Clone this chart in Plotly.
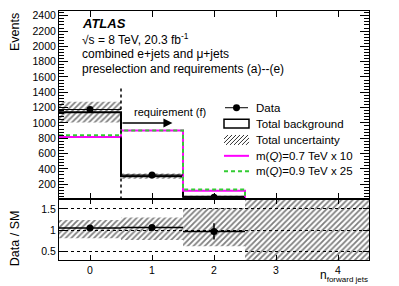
import plotly.graph_objects as go

# ---------------- data ----------------
bin_centers = [0, 1, 2, 3, 4]
bin_edges = [-0.5, 0.5, 1.5, 2.5, 3.5, 4.5]
data_counts = [1175, 320, 28, None, None]
data_err = [34, 18, 5, None, None]
bkg_counts = [1140, 305, 35, 1, 1]
bkg_unc_low = [1005, 272, 22, 0, 0]
bkg_unc_high = [1275, 340, 48, 3, 3]
sig07_x10 = [815, 900, 115, 5, 5]
sig09_x25 = [840, 902, 130, 6, 6]

ratio_data = [1.05, 1.06, 0.97, None, None]
ratio_err = [0.03, 0.06, 0.19, None, None]
ratio_unc_low = [0.81, 0.77, 0.62, 0.0, 0.0]
ratio_unc_high = [1.24, 1.30, 1.52, 2.0, 2.0]

cut_x = 0.5
cut_line_top = 1450
arrow_y = 1000
arrow_end_x = 1.33

main_ticks = [200, 400, 600, 800, 1000, 1200, 1400, 1600, 1800, 2000, 2200, 2400]
ratio_ticks = [0.5, 1, 1.5]
ratio_ticklabels = ["0.5", "1", "1.5"]
x_ticks = [0, 1, 2, 3, 4]

legend_labels = ["Data", "Total background", "Total uncertainty",
                 "m(<i>Q</i>)=0.7 TeV x 10", "m(<i>Q</i>)=0.9 TeV x 25"]

SIG07_COLOR = "#ff00ff"
SIG09_COLOR = "#33cc33"
FONT = "Liberation Sans, Arial, Helvetica, sans-serif"
W, H = 399, 286
L, R, T, B = 59, 30, 9, 26
PW, PH = W - L - R, H - T - B


def px(x):
    return (x - L) / PW


def py(y):
    return 1 - (y - T) / PH


def step(vals):
    return list(vals) + [vals[-1]]


HATCH = dict(shape="/", fgcolor="black", bgcolor="rgba(0,0,0,0)", size=4, solidity=0.45)

fig = go.Figure()

# uncertainty band (main)
fig.add_trace(go.Bar(
    x=bin_centers, base=bkg_unc_low,
    y=[h - l for h, l in zip(bkg_unc_high, bkg_unc_low)],
    width=1, xaxis="x", yaxis="y",
    marker=dict(color="rgba(0,0,0,0)", line=dict(width=0), pattern=HATCH),
    showlegend=False, hoverinfo="skip"))

# total background
fig.add_trace(go.Scatter(
    x=bin_edges, y=step(bkg_counts), mode="lines", line_shape="hv",
    line=dict(color="black", width=2), xaxis="x", yaxis="y", showlegend=False))

# signals
fig.add_trace(go.Scatter(
    x=bin_edges, y=step(sig07_x10), mode="lines", line_shape="hv",
    line=dict(color=SIG07_COLOR, width=2), xaxis="x", yaxis="y", showlegend=False))
fig.add_trace(go.Scatter(
    x=bin_edges, y=step(sig09_x25), mode="lines", line_shape="hv",
    line=dict(color=SIG09_COLOR, width=2, dash="4px,3px"), xaxis="x", yaxis="y",
    showlegend=False))

# cut line
fig.add_trace(go.Scatter(
    x=[cut_x, cut_x], y=[0, cut_line_top], mode="lines",
    line=dict(color="black", width=1.5, dash="dot"), xaxis="x", yaxis="y",
    showlegend=False))

# data (main)
fig.add_trace(go.Scatter(
    x=bin_centers, y=data_counts, mode="markers",
    marker=dict(color="black", size=7),
    error_y=dict(type="data", array=data_err, color="black", thickness=1, width=0),
    error_x=dict(type="constant", value=0.5, color="black", thickness=1, width=0),
    xaxis="x", yaxis="y", showlegend=False))

# ratio band
fig.add_trace(go.Bar(
    x=bin_centers, base=ratio_unc_low,
    y=[h - l for h, l in zip(ratio_unc_high, ratio_unc_low)],
    width=1, xaxis="x2", yaxis="y2",
    marker=dict(color="rgba(0,0,0,0)", line=dict(width=0), pattern=HATCH),
    showlegend=False, hoverinfo="skip"))

# ratio data
fig.add_trace(go.Scatter(
    x=bin_centers, y=ratio_data, mode="markers",
    marker=dict(color="black", size=7),
    error_y=dict(type="data", array=ratio_err, color="black", thickness=1.5, width=0),
    error_x=dict(type="constant", value=0.5, color="black", thickness=1.5, width=0),
    xaxis="x2", yaxis="y2", showlegend=False))

ratio_dom = (260 - 199) / PH  # fraction of plot height

axis_common = dict(showline=True, linecolor="black", linewidth=1, mirror="allticks",
                   ticks="inside", tickcolor="black", zeroline=False, showgrid=False)

fig.update_layout(
    width=W, height=H,
    margin=dict(l=L, r=R, t=T, b=B, pad=0),
    paper_bgcolor="white", plot_bgcolor="white",
    font=dict(family=FONT, size=11, color="black"),
    barmode="overlay",
    showlegend=False,
    xaxis=dict(domain=[0, 1], range=[-0.5, 4.5], anchor="y", matches="x2",
               tickvals=x_ticks, showticklabels=False, ticklen=6, **axis_common),
    yaxis=dict(domain=[ratio_dom, 1], range=[0, 2462], anchor="x",
               tickvals=main_ticks, ticktext=[str(v) for v in main_ticks],
               ticklen=9, tickfont=dict(size=10.5),
               minor=dict(dtick=40, tick0=0, ticklen=5, ticks="inside", tickcolor="black"),
               **axis_common),
    xaxis2=dict(domain=[0, 1], range=[-0.5, 4.5], anchor="y2",
                tickvals=x_ticks, ticktext=[str(v) for v in x_ticks],
                ticklen=5, tickfont=dict(size=10.5), **axis_common),
    yaxis2=dict(domain=[0, ratio_dom], range=[0.3, 1.72], anchor="x2",
                tickvals=ratio_ticks, ticktext=ratio_ticklabels, ticklen=6,
                tickfont=dict(size=10.5),
                **{k: v for k, v in axis_common.items() if k != "showgrid"},
                showgrid=True, gridcolor="black", gridwidth=1, griddash="3px,3px"),
)

annotations = [
    dict(x=px(80), y=py(22), text="<b><i>ATLAS</i></b>", font=dict(size=13)),
    dict(x=px(80), y=py(37), text="\u221as = 8 TeV, 20.3 fb<sup>-1</sup>", font=dict(size=12)),
    dict(x=px(80), y=py(52), text="combined e+jets and \u03bc+jets", font=dict(size=12)),
    dict(x=px(80), y=py(67), text="preselection and requirements (a)--(e)", font=dict(size=12)),
]
for a in annotations:
    a.update(xref="paper", yref="paper", xanchor="left", yanchor="middle", showarrow=False)
    fig.add_annotation(**a)

# requirement arrow
fig.add_annotation(x=arrow_end_x, y=arrow_y, ax=cut_x, ay=arrow_y,
                   xref="x", yref="y", axref="x", ayref="y",
                   showarrow=True, arrowhead=2, arrowsize=1.2, arrowwidth=1.5,
                   arrowcolor="black", text="")
fig.add_annotation(x=cut_x + 0.17, y=arrow_y + 40, xref="x", yref="y",
                   text="requirement (f)", showarrow=False, xanchor="left",
                   yanchor="bottom", font=dict(size=11))

# ---------------- legend (drawn manually, ROOT style) ----------------
LEG_X0, LEG_X1, LEG_TEXT_X = 224, 249, 254
LEG_ROWS = [106.5, 122.5, 139, 155, 170.5]
for lab, yc in zip(legend_labels, LEG_ROWS):
    fig.add_annotation(x=px(LEG_TEXT_X), y=py(yc), xref="paper", yref="paper",
                       text=lab, showarrow=False, xanchor="left", yanchor="middle",
                       font=dict(size=11.5))

# Data: line + marker
r0 = LEG_ROWS[0]
fig.add_shape(type="line", xref="paper", yref="paper",
              x0=px(LEG_X0 + 1), x1=px(LEG_X1 - 1), y0=py(r0), y1=py(r0),
              line=dict(color="black", width=1))
xm = (LEG_X0 + LEG_X1) / 2
fig.add_shape(type="circle", xref="paper", yref="paper",
              x0=px(xm - 3.5), x1=px(xm + 3.5), y0=py(r0 - 3.5), y1=py(r0 + 3.5),
              fillcolor="black", line=dict(color="black", width=0))
# Total background: open box
r1 = LEG_ROWS[1]
fig.add_shape(type="rect", xref="paper", yref="paper",
              x0=px(LEG_X0), x1=px(LEG_X1), y0=py(r1 - 4.5), y1=py(r1 + 4.5),
              fillcolor="white", line=dict(color="black", width=1.5))
# Total uncertainty: hatched box
r2 = LEG_ROWS[2]
top, bot = r2 - 5, r2 + 5
hh = bot - top
segs = []
xs = LEG_X0 - hh
while xs < LEG_X1:
    ax0, ay0 = xs, bot
    ax1, ay1 = xs + hh, top
    if ax0 < LEG_X0:
        ay0 = bot - (LEG_X0 - ax0)
        ax0 = LEG_X0
    if ax1 > LEG_X1:
        ay1 = top + (ax1 - LEG_X1)
        ax1 = LEG_X1
    if ax1 > ax0:
        segs.append(f"M{px(ax0):.5f},{py(ay0):.5f}L{px(ax1):.5f},{py(ay1):.5f}")
    xs += 4
fig.add_shape(type="path", xref="paper", yref="paper", path="".join(segs),
              line=dict(color="#333333", width=1))
# signals
for yc, col, dash in [(LEG_ROWS[3], SIG07_COLOR, "solid"), (LEG_ROWS[4], SIG09_COLOR, "4px,3px")]:
    fig.add_shape(type="line", xref="paper", yref="paper",
                  x0=px(LEG_X0), x1=px(LEG_X1), y0=py(yc), y1=py(yc),
                  line=dict(color=col, width=2, dash=dash))

# axis titles
fig.add_annotation(x=px(15), y=py(9), xref="paper", yref="paper", text="Events",
                   textangle=-90, showarrow=False, xanchor="center", yanchor="top",
                   font=dict(size=12.5))
fig.add_annotation(x=px(15), y=py(238), xref="paper", yref="paper", text="Data / SM",
                   textangle=-90, showarrow=False, xanchor="center", yanchor="middle",
                   font=dict(size=12.5))
fig.add_annotation(x=px(370), y=py(286.5), xref="paper", yref="paper",
                   text="n<sub><span style='font-size:8px'>forward jets</span></sub>",
                   showarrow=False, xanchor="right", yanchor="bottom",
                   font=dict(size=12))

fig.write_html("out.html", config={"displayModeBar": False, "staticPlot": True},
               post_script="document.body.style.margin='0';document.body.style.overflow='hidden';")
